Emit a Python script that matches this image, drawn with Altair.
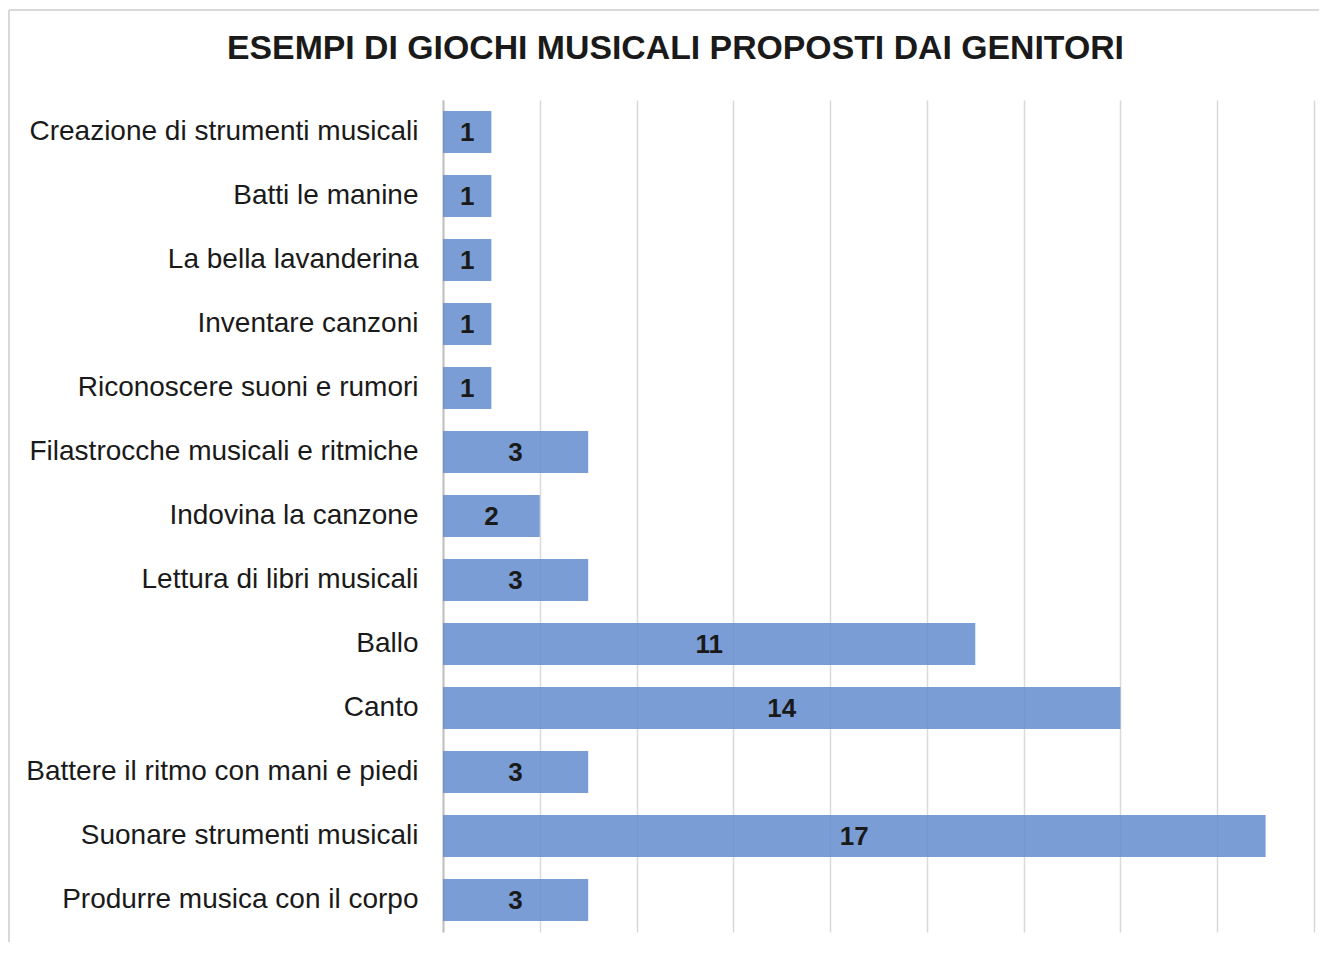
import altair as alt
import pandas as pd

categories = [
    "Creazione di strumenti musicali",
    "Batti le manine",
    "La bella lavanderina",
    "Inventare canzoni",
    "Riconoscere suoni e rumori",
    "Filastrocche musicali e ritmiche",
    "Indovina la canzone",
    "Lettura di libri musicali",
    "Ballo",
    "Canto",
    "Battere il ritmo con mani e piedi",
    "Suonare strumenti musicali",
    "Produrre musica con il corpo",
]
values = [1, 1, 1, 1, 1, 3, 2, 3, 11, 14, 3, 17, 3]
x_ticks = [0, 2, 4, 6, 8, 10, 12, 14, 16, 18]

df = pd.DataFrame({"cat": categories, "val": values})
df["half"] = df["val"] / 2

FONT = "Liberation Sans"

y_enc = alt.Y("cat:N", sort=categories, title=None,
              scale=alt.Scale(paddingInner=0.34, paddingOuter=0.17),
              axis=alt.Axis(labelFont=FONT, labelFontSize=28, labelColor="#1a1a1a",
                            labelPadding=25, ticks=False, domain=True,
                            domainColor="#bfbfbf", domainWidth=2, grid=False,
                            labelLimit=600))

bars = alt.Chart(df).mark_bar(color="#648CCF", opacity=0.85).encode(
    x=alt.X("val:Q", title=None,
            scale=alt.Scale(domain=[0, 18], nice=False),
            axis=alt.Axis(values=x_ticks, labels=False, ticks=False, domain=False,
                          grid=True, gridColor="#d9d9d9", gridWidth=1.5)),
    y=y_enc,
)

texts = alt.Chart(df).mark_text(font=FONT, fontSize=26, fontWeight="bold",
                                color="#1a1a1a", baseline="middle", dy=1).encode(
    x=alt.X("half:Q"),
    y=alt.Y("cat:N", sort=categories),
    text=alt.Text("val:Q"),
)

frame_left = alt.Chart(df).mark_rule(color="#d9d9d9", strokeWidth=1.5).encode(
    x=alt.value(-434), y=alt.value(-90), y2=alt.value(842))
frame_top = alt.Chart(df).mark_rule(color="#d9d9d9", strokeWidth=1.5).encode(
    x=alt.value(-434), x2=alt.value(876), y=alt.value(-90))

chart = alt.layer(bars, texts, frame_left, frame_top).properties(
    width=871, height=832,
    autosize=alt.AutoSizeParams(type="none"),
    padding={"left": 435, "top": 92, "right": 5, "bottom": 10},
    title=alt.Title("ESEMPI DI GIOCHI MUSICALI PROPOSTI DAI GENITORI",
                    font=FONT, fontSize=33.8, fontWeight="bold", color="#1a1a1a",
                    anchor="middle", frame="group", baseline="alphabetic",
                    offset=0, dx=-203, dy=84, limit=2000),
).configure(background="white", view=alt.ViewConfig(stroke=None))

chart.save("out.html", embed_options={"renderer": "svg", "actions": False})
